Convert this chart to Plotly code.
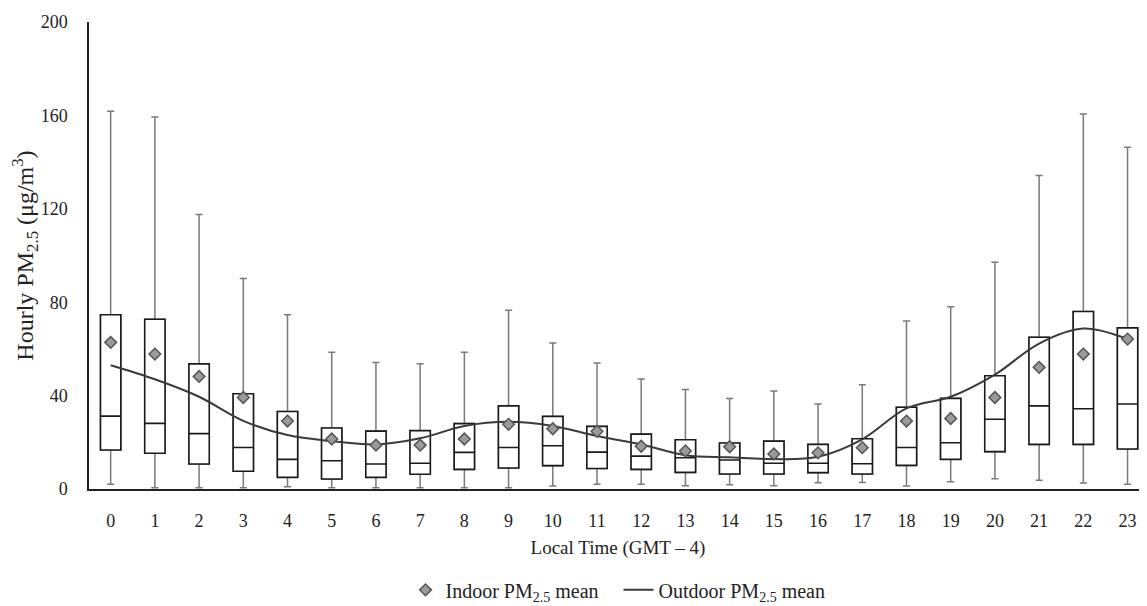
import plotly.graph_objects as go

hours = list(range(24))
tick_labels = [str(h) for h in hours]

q1 = [16.7, 15.3, 10.7, 7.6, 5.0, 4.3, 5.0, 6.3, 8.4, 9.0, 10.0, 8.8,
      8.4, 7.1, 6.4, 6.4, 7.0, 6.4, 10.1, 12.7, 16.0, 19.1, 19.1, 17.1]
median = [31.2, 28.1, 23.7, 17.8, 12.7, 12.1, 10.7, 11.0, 15.7, 17.8, 18.5, 15.8,
          14.1, 13.4, 12.4, 11.0, 11.0, 10.8, 17.8, 19.8, 29.9, 35.6, 34.4, 36.4]
q3 = [74.6, 72.7, 53.6, 40.8, 33.2, 26.1, 24.8, 25.0, 28.0, 35.6, 31.1, 26.8,
      23.5, 21.1, 19.7, 20.5, 19.1, 21.5, 35.0, 38.8, 48.5, 65.0, 76.0, 69.0]
whisker_low = [2.0, 0.5, 0.5, 0.5, 1.0, 0.5, 0.5, 0.5, 0.5, 0.5, 1.3, 2.0,
               2.0, 1.4, 1.8, 1.4, 2.7, 2.8, 1.3, 3.1, 4.4, 3.7, 2.6, 2.0]
whisker_high = [161.8, 159.3, 117.6, 90.1, 74.6, 58.6, 54.2, 53.6, 58.6, 76.6, 62.5, 54.0,
                47.1, 42.6, 38.8, 42.0, 36.4, 44.6, 72.0, 78.0, 97.1, 134.3, 160.6, 146.4]
indoor_mean = [62.8, 57.8, 48.2, 39.2, 29.1, 21.4, 18.8, 18.8, 21.4, 27.7, 25.8, 24.7,
               18.3, 16.3, 18.1, 15.0, 15.5, 17.7, 29.1, 30.2, 39.2, 52.1, 57.8, 64.2]
outdoor_mean = [53.0, 47.0, 39.5, 29.2, 23.1, 20.5, 19.1, 21.7, 27.0, 28.8, 27.0, 22.7,
                19.1, 14.5, 13.6, 12.8, 13.8, 21.3, 34.5, 39.5, 49.0, 62.3, 68.7, 64.2]

FONT = "Liberation Serif, Times New Roman, serif"

fig = go.Figure()

# whiskers (gray)
fig.add_trace(go.Box(
    x=hours, q1=q1, median=median, q3=q3,
    lowerfence=whisker_low, upperfence=whisker_high,
    boxpoints=False, width=0.46, whiskerwidth=0.35,
    line=dict(color="#7a7a7a", width=1.5), fillcolor="white",
    showlegend=False, hoverinfo="skip",
))
# boxes (black outline)
fig.add_trace(go.Box(
    x=hours, q1=q1, median=median, q3=q3,
    lowerfence=q1, upperfence=q3,
    boxpoints=False, width=0.46, whiskerwidth=0,
    line=dict(color="#1a1a1a", width=1.6), fillcolor="white",
    showlegend=False, hoverinfo="skip",
))
fig.add_trace(go.Scatter(
    x=hours, y=outdoor_mean, mode="lines",
    name="Outdoor PM<sub>2.5</sub> mean",
    line=dict(color="#3a3a3a", width=2, shape="spline", smoothing=1),
))
fig.add_trace(go.Scatter(
    x=hours, y=indoor_mean, mode="markers",
    name="Indoor PM<sub>2.5</sub> mean\u00a0\u00a0\u00a0",
    marker=dict(symbol="diamond", size=9, color="#9a9a9a",
                line=dict(color="#555555", width=1.5)),
))

fig.update_layout(
    width=1139, height=598,
    margin=dict(l=81, r=0, t=13.5, b=117),
    paper_bgcolor="white", plot_bgcolor="white",
    font=dict(family=FONT, size=18, color="#222222"),
    boxmode="overlay",
    legend=dict(orientation="h", x=0.5, xanchor="center",
                yref="container", y=0.027, yanchor="middle",
                font=dict(family=FONT, size=20, color="#222222"),
                traceorder="reversed", itemwidth=30),
    xaxis=dict(
        range=[-0.49, 23.44], tickmode="array", tickvals=hours, ticktext=tick_labels,
        showgrid=False, zeroline=False, showline=True, linecolor="#222222", linewidth=2,
        ticks="outside", ticklen=14, tickcolor="rgba(0,0,0,0)",
        tickfont=dict(family=FONT, size=18),
        title=dict(text="Local Time (GMT – 4)", font=dict(family=FONT, size=19), standoff=11),
    ),
    yaxis=dict(
        range=[0, 200], tickvals=[0, 40, 80, 120, 160, 200],
        showgrid=False, zeroline=False, showline=True, linecolor="#222222", linewidth=1.5,
        ticks="outside", ticklen=16, tickcolor="rgba(0,0,0,0)",
        tickfont=dict(family=FONT, size=18),
        title=dict(text="Hourly PM<sub>2.5</sub> (μg/m<sup>3</sup>)",
                   font=dict(family=FONT, size=24), standoff=10),
    ),
)

fig.write_html("out.html")
